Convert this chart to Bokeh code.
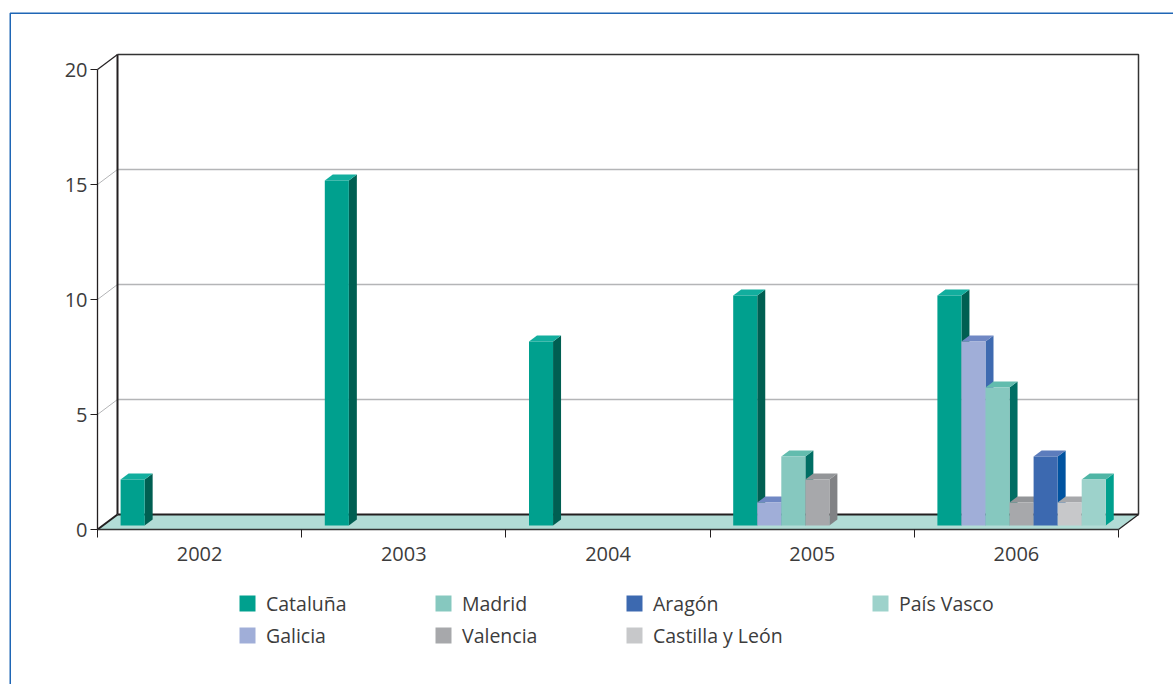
from bokeh.plotting import figure
from bokeh.embed import file_html
from bokeh.resources import INLINE
from bokeh.models import Range1d, FixedTicker, Legend, LegendItem, BoxAnnotation

YEARS = ["2002", "2003", "2004", "2005", "2006"]
Y_TICKS = [0, 5, 10, 15, 20]
SERIES = ["Cataluña", "Galicia", "Madrid", "Valencia", "Aragón", "Castilla y León", "País Vasco"]
CATALUNA = [2, 15, 8, 10, 10]
GALICIA = [0, 0, 0, 1, 8]
MADRID = [0, 0, 0, 3, 6]
VALENCIA = [0, 0, 0, 2, 1]
ARAGON = [0, 0, 0, 0, 3]
CASTILLA = [0, 0, 0, 0, 1]
PAIS_VASCO = [0, 0, 0, 0, 2]
VALUES = [CATALUNA, GALICIA, MADRID, VALENCIA, ARAGON, CASTILLA, PAIS_VASCO]
FRONT = ["#00A08E", "#A0AED8", "#86C8BF", "#A7A8AB", "#3C69B0", "#C7C8CA", "#9DD2CB"]
TOP = ["#12AE9E", "#7088C4", "#62BCAE", "#939598", "#5C7CBC", "#A7A8AB", "#4FB5A5"]
SIDE = ["#005F52", "#3E6AB0", "#006E64", "#818285", "#0053A0", "#A0A0A0", "#00A08E"]

PX_X = 204.2   # pixels per year group
PX_Y = 23.0    # pixels per unit
WALL_DX, WALL_DY = 20 / PX_X, 15 / PX_Y
BAR_DX, BAR_DY = 8 / PX_X, 6 / PX_Y
BAR_W = 24.05 / PX_X
BAR_X0, BAR_Y0 = 23.1 / PX_X, 4 / PX_Y
N = len(YEARS)
YMAX = Y_TICKS[-1]
TXT = "#3c3c3c"
FONT = "Open Sans"

W, H = 1173, 684
ORIGIN_X, ORIGIN_Y = 97, 529   # where the front axes meet
p = figure(width=W, height=H, output_backend="svg", toolbar_location=None,
           x_range=Range1d(-ORIGIN_X / PX_X, (W - ORIGIN_X) / PX_X),
           y_range=Range1d(-(H - ORIGIN_Y) / PX_Y, ORIGIN_Y / PX_Y),
           min_border=0, outline_line_color=None,
           background_fill_color="white", border_fill_color="white")
p.grid.visible = False

# floor
p.patch([0, WALL_DX, N + WALL_DX, N], [0, WALL_DY, WALL_DY, 0], fill_color="#B2DCD6", line_color=None)
# walls
p.segment([WALL_DX] * 3, [t + WALL_DY for t in Y_TICKS[1:4]], [N + WALL_DX] * 3, [t + WALL_DY for t in Y_TICKS[1:4]],
          line_color="#B4B5B7", line_width=1.5)
p.segment([0] * 3, Y_TICKS[1:4], [WALL_DX] * 3, [t + WALL_DY for t in Y_TICKS[1:4]],
          line_color="#B4B5B7", line_width=1)
p.line([WALL_DX, WALL_DX], [WALL_DY, YMAX + WALL_DY], line_color="#231F20", line_width=2)
p.line([WALL_DX, N + WALL_DX, N + WALL_DX], [YMAX + WALL_DY, YMAX + WALL_DY, WALL_DY], line_color="#333333", line_width=1.5)
p.line([WALL_DX, N + WALL_DX], [WALL_DY, WALL_DY], line_color="#231F20", line_width=2)
p.line([0, WALL_DX], [YMAX, YMAX + WALL_DY], line_color="#231F20", line_width=1.2)
p.line([0, WALL_DX], [0, WALL_DY], line_color="#231F20", line_width=2)
p.line([N, N + WALL_DX], [0, WALL_DY], line_color="#231F20", line_width=1.2)

# bars: drawn series by series, left to right, so a bar hides its left neighbour's side
fronts = {}
for i, (name, vals) in enumerate(zip(SERIES, VALUES)):
    idx = [g for g, v in enumerate(vals) if v > 0]
    lefts = [g + BAR_X0 + i * BAR_W for g in idx]
    tops = [BAR_Y0 + vals[g] for g in idx]
    p.patches([[l + BAR_W, l + BAR_W + BAR_DX, l + BAR_W + BAR_DX, l + BAR_W] for l in lefts],
              [[BAR_Y0, BAR_Y0 + BAR_DY, t + BAR_DY, t] for t in tops],
              fill_color=SIDE[i], line_color=None)
    p.patches([[l, l + BAR_DX, l + BAR_W + BAR_DX, l + BAR_W] for l in lefts],
              [[t, t + BAR_DY, t + BAR_DY, t] for t in tops],
              fill_color=TOP[i], line_color=None)
    fronts[name] = p.quad(left=lefts, right=[l + BAR_W for l in lefts], bottom=[BAR_Y0] * len(lefts), top=tops,
                          fill_color=FRONT[i], line_color=None)

# axes, pinned inside the frame at the front corner
ax = p.yaxis[0]
ax.fixed_location = 0
ax.ticker = FixedTicker(ticks=Y_TICKS)
ax.bounds = (0, YMAX)
ax.minor_tick_line_color = None
ax.major_tick_in = 0
ax.major_tick_out = 7
ax.major_tick_line_color = "#231F20"
ax.axis_line_color = "#231F20"
ax.axis_line_width = 1.3
ax.major_label_standoff = 3
ax.major_label_text_font = FONT
ax.major_label_text_font_size = "20px"
ax.major_label_text_color = TXT

bx = p.xaxis[0]
bx.fixed_location = 0
centers = [g + 0.5 for g in range(N)]
bx.ticker = FixedTicker(ticks=centers, minor_ticks=list(range(N + 1)))
bx.major_label_overrides = dict(zip(centers, YEARS))
bx.bounds = (0, N)
bx.major_tick_line_color = None
bx.major_tick_in = 0
bx.major_tick_out = 0
bx.minor_tick_in = 0
bx.minor_tick_out = 8
bx.minor_tick_line_color = "#231F20"
bx.axis_line_color = "#333333"
bx.axis_line_width = 1.3
bx.major_label_standoff = 9
bx.major_label_text_font = FONT
bx.major_label_text_font_size = "20px"
bx.major_label_text_color = TXT

# legend: four columns, as in the reference
columns = [(237, ["Cataluña", "Galicia"]), (433, ["Madrid", "Valencia"]),
           (624, ["Aragón", "Castilla y León"]), (870, ["País Vasco"])]
for x_px, names in columns:
    leg = Legend(items=[LegendItem(label=n, renderers=[fronts[n]]) for n in names],
                 location=(x_px, H - (603 + 32 * (len(names) - 1) + 13.5)),
                 orientation="vertical", border_line_color=None, background_fill_alpha=0,
                 padding=0, margin=0, spacing=5, glyph_width=20, glyph_height=20,
                 label_standoff=9, label_text_font=FONT, label_text_font_size="19.5px",
                 label_text_color=TXT, label_text_baseline="middle")
    p.add_layout(leg, "center")

# blue frame of the page, running off the right and bottom
p.add_layout(BoxAnnotation(left=9.75, top=12.75, right=W + 20, bottom=H + 20,
                           left_units="canvas", right_units="canvas", top_units="canvas", bottom_units="canvas",
                           fill_alpha=0, line_color="#1F66B5", line_alpha=1, line_width=1.5))

open("out.html", "w").write(file_html(p, INLINE))
